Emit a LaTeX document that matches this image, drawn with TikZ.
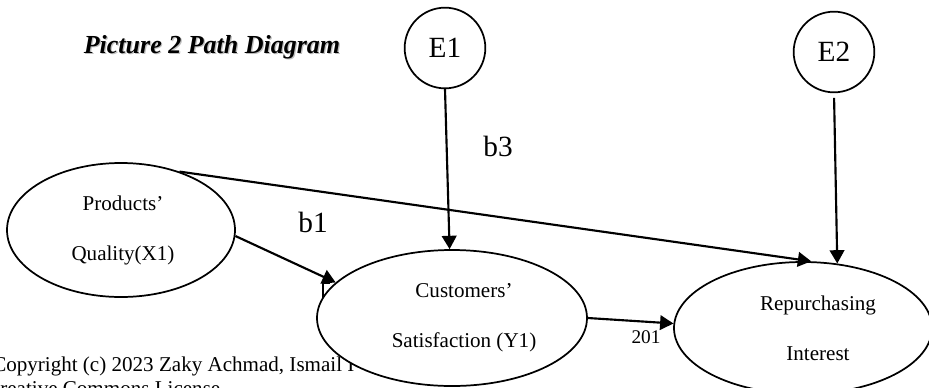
\documentclass[tikz,border=0pt]{standalone}
\usepackage{fontspec}
\setmainfont{Liberation Serif}
\usetikzlibrary{arrows.meta,calc,shapes.geometric}

\begin{document}
\begin{tikzpicture}[x=0.75pt,y=-0.75pt,>={Triangle[length=10pt,width=11pt]},
	every node/.style={font=\fontsize{15.8pt}{37.5pt}\selectfont},
	latent/.style={draw,ellipse,line width=1.3pt,fill=white,inner sep=0pt},
	err/.style={draw,circle,line width=1.3pt,inner sep=0pt,minimum size=60.5pt,font=\fontsize{22pt}{26pt}\selectfont},
	link/.style={line width=1.6pt,->},
	coef/.style={font=\fontsize{22pt}{26pt}\selectfont}]
		\useasboundingbox (0,0) rectangle (929,387);
		
		% footer line, partly hidden under the Y1 ellipse
		\node[anchor=base west,inner sep=0pt,font=\fontsize{15.8pt}{18pt}\selectfont] (copyA) at (-8,371) {Copyright (c) 2023 Zaky Achmad, Ismail I};
		\node[anchor=base west,inner sep=0pt,font=\fontsize{15.8pt}{18pt}\selectfont] (copyB) at (-14,395) {Creative Commons License};
		
		% title with its soft shadow
		\node[anchor=base,text=black!25,font=\fontsize{19.5pt}{22pt}\selectfont\bfseries\itshape] (titleshadow) at (213.2,54.2) {Picture 2 Path Diagram};
		\node[anchor=base,font=\fontsize{19.5pt}{22pt}\selectfont\bfseries\itshape] (title) at (212,53) {Picture 2 Path Diagram};
		
		% latent variables
		\node[latent,minimum width=171pt,minimum height=100.5pt] (pq) at (121,230) {};
		\node[latent,minimum width=202.5pt,minimum height=102pt] (cs) at (452,318) {};
		\node[latent,minimum width=193.5pt,minimum height=99pt] (ri) at (803,328) {};
		\node[align=center] (pqtext) at ($(pq)+(2,0)$) {Products’\\Quality(X1)};
		\node[align=center] (cstext) at ($(cs)+(12,0)$) {Customers’\\Satisfaction (Y1)};
		\node[align=center] (ritext) at ($(ri)+(15,0)$) {Repurchasing\\Interest};
		
		% error terms
		\node[err] (e1) at (445,48) {E1};
		\node[err] (e2) at (834,52) {E2};
		
		% paths
		\draw[link] (pq.-3) -- (cs.163);
		\draw[link] (pq.45) -- (ri.83);
		\draw[link] (e1.south) -- (cs.92);
		\draw[link,shorten <=3.5pt] (e2.south) -- (ri.62);
		\draw[link] (cs.east) -- (ri.178) node[pos=0.68,below=2.5pt,font=\fontsize{14.5pt}{17pt}\selectfont] (r201) {201};
		\draw[line width=0.8pt] (330,283) -- (323,283) -- (323,298);
		
		\node[coef] (b1) at (313,222) {b1};
		\node[coef] (b3) at (498,146) {b3};
	\end{tikzpicture}
\end{document}
